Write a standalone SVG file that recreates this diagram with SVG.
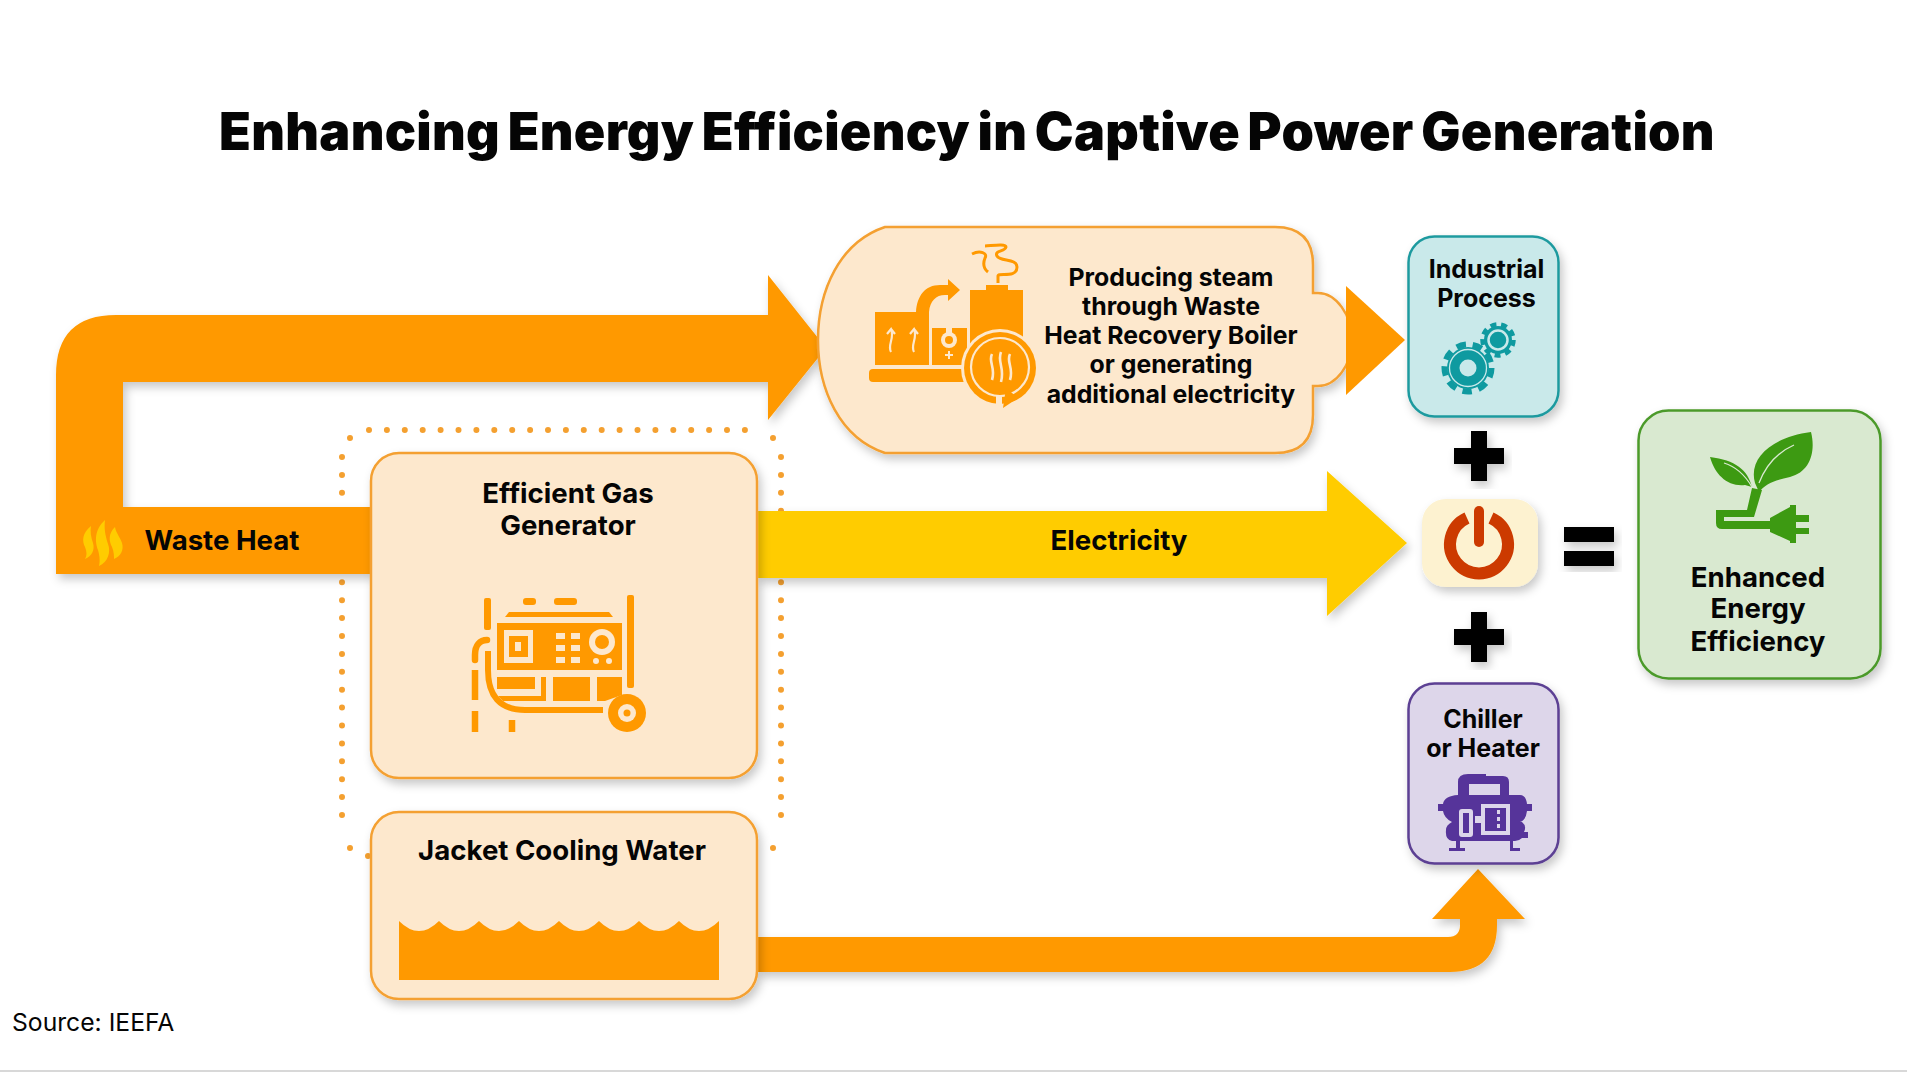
<svg xmlns="http://www.w3.org/2000/svg" width="1907" height="1072" viewBox="0 0 1907 1072">
<style>
text{font-family:Inter,"Liberation Sans",sans-serif;fill:#050505;text-anchor:middle;font-weight:700}
.t27{font-size:27.6px}.t25{font-size:25px}.t24{font-size:24.8px}
.o{fill:#ff9900}.b{fill:#fde8cd}.node{fill:#fde8cd;stroke:#f4a030;stroke-width:2.5}
.lo{fill:none;stroke:#ff9900}.lb{fill:none;stroke:#fde8cd}
.tl{fill:#0f9aa0}.pu{fill:#56349a}.gr{fill:#3d9a12}
</style>
<defs>
<filter id="sh" x="-15%" y="-15%" width="130%" height="130%"><feDropShadow dx="3" dy="5" stdDeviation="5" flood-color="#000" flood-opacity=".22"/></filter>
</defs>
<rect width="1907" height="1072" fill="#fff"/>
<rect y="1070" width="1907" height="2" fill="#d8d8d8"/>
<text id="title" x="967" y="149.500" style="font-size:52px;font-weight:900;word-spacing:-3px;letter-spacing:.28px">Enhancing Energy Efficiency in Captive Power Generation</text>
<g id="connectors">
<path id="dotted-boundary" d="M342 457V830M369 430H756M781 457V830M350 438h.01M773 438h.01M350 848h.01M773 848h.01M368 856h.01" fill="none" stroke="#f4a030" stroke-width="6" stroke-linecap="round" stroke-dasharray="0 17.9"/>
<path id="waste-heat-arrow" class="o" filter="url(#sh)" d="M56 574V375Q56 315 116 315H768V275L826 348L768 420V382H123V507H372V574Z"/>
<path id="electricity-arrow" fill="#ffcc00" filter="url(#sh)" d="M757 511H1327V471L1407 543L1327 616V578H757Z"/>
<path id="cooling-arrow" class="o" filter="url(#sh)" d="M757 937H1448Q1460 937 1460 925V919H1432L1478 869L1525 919H1497V925Q1497 972 1450 972H757Z"/>
</g>
<g id="node-steam">
<path class="node" filter="url(#sh)" d="M885 227H1275Q1313 227 1313 265V293H1318C1336 293 1352 315 1352 340C1352 365 1336 386 1318 386H1313V415Q1313 453 1275 453H885C840 438 818 390 818 340C818 290 840 242 885 227Z"/>
<g id="steam-icon">
<rect class="o" x="869" y="369" width="100" height="13" rx="4"/>
<path class="o" d="M875 312H916C917 296 925 285 940 285H948V279L960 290L948 301V295H945C936 295 930 301 929 312V365H875Z"/>
<path class="o" d="M932 328H967V365H932Z"/>
<path class="o" d="M970 290H986V285H1008V290H1023V345H970Z"/>
<path class="lb" stroke-width="2.200" d="M891 352C887 345 895 338 891 329L887 334M891 329L895 334M914 352C910 345 918 338 914 329L910 334M914 329L918 334"/>
<rect class="b" x="946" y="316" width="6" height="24"/><circle class="b" cx="949" cy="340" r="8"/><circle class="o" cx="949" cy="340" r="4"/>
<path class="lb" stroke-width="2" d="M945 355H953M949 351V359"/>
<circle class="b" cx="1000" cy="368" r="39"/>
<circle class="o" cx="1000" cy="368" r="36"/>
<circle fill="none" stroke="#fde8cd" stroke-width="2.200" cx="1000" cy="367" r="29"/>
<path class="lb" stroke-width="2.600" d="M992 354C988 362 996 368 992 380M1001 352C997 362 1005 368 1001 382M1010 354C1006 362 1014 368 1010 380"/>
<path class="o" d="M1003 408L1006 388L1018 398Z"/>
<path class="b" d="M996 405H1002V396H996Z"/>
<path class="lo" stroke-width="3" d="M998 283V276C998 272 1017 279 1017 267C1017 258 1000 262 997 256C994 250 1005 252 1006 247C1006 243 990 246 985 246M972 254C980 250 988 253 985 258C983 263 983 268 988 272"/>
</g>
<text class="t24"><tspan x="1171" y="286">Producing steam</tspan><tspan x="1171" y="315">through Waste</tspan><tspan x="1171" y="344">Heat Recovery Boiler</tspan><tspan x="1171" y="373">or generating</tspan><tspan x="1171" y="403">additional electricity</tspan></text>
</g>
<path id="steam-arrow" class="o" d="M1346 286L1405 340L1346 395Z"/>
<g id="node-gas-generator">
<rect class="node" filter="url(#sh)" x="371" y="453" width="386" height="325" rx="28"/>
<text class="t27"><tspan x="568" y="503">Efficient Gas</tspan><tspan x="568" y="535">Generator</tspan></text>
<g id="generator-icon">
<rect class="o" x="484" y="598" width="7" height="32" rx="2"/><rect class="o" x="627" y="595" width="7" height="93" rx="2"/>
<rect class="o" x="523" y="598" width="13" height="7" rx="3"/><rect class="o" x="554" y="598" width="23" height="7" rx="3"/>
<path class="o" d="M505 617L509 612H609L613 617Z"/>
<path class="o" d="M497 623H622V670H497Z"/>
<path class="b" d="M504 630H533V663H504ZM556 633h9v6h-9zM571 633h9v6h-9zM556 645h9v6h-9zM571 645h9v6h-9zM556 657h9v6h-9zM571 657h9v6h-9z"/>
<path class="o" d="M509 636H528V657H509Z"/><rect class="b" x="515" y="642" width="6" height="9"/>
<circle class="b" cx="602" cy="642" r="13"/><circle class="o" cx="602" cy="642" r="7"/><circle class="b" cx="596" cy="661" r="3"/><circle class="b" cx="609" cy="661" r="3"/>
<path class="o" d="M497 677H535V689H497ZM553 677H590V701H553ZM597 677H622V695L605 701H597ZM541 677H546V701H503L498 696H541Z"/>
<path class="lo" stroke-width="6" d="M488 651V670C488 696 500 710 525 710H603"/>
<path class="lo" stroke-width="6.500" stroke-linecap="round" d="M475 660V655C475 645 480 640 487 640"/>
<path class="lo" stroke-width="6.500" d="M475 670V700M475 711V732M512 720V732"/>
<circle class="o" cx="627" cy="713" r="19"/><circle class="b" cx="627" cy="713" r="9"/><circle class="o" cx="627" cy="713" r="3.500"/>
</g>
</g>
<g id="node-jacket">
<rect class="node" filter="url(#sh)" x="371" y="812" width="386" height="187" rx="28"/>
<text class="t27" x="562" y="860">Jacket Cooling Water</text>
<path id="water" class="o" d="M399 921Q419 941 439 921Q459 941 479 921Q499 941 519 921Q539 941 559 921Q579 941 599 921Q619 941 639 921Q659 941 679 921Q699 941 719 921V980H399Z"/>
</g>
<text id="label-waste-heat" class="t27" x="222" y="550">Waste Heat</text>
<path id="flame-icon" fill="#ffcc00" d="M91 526C82 533 82 541 85 547C87 552 87 556 85 559C92 556 95 550 93 543C91 537 90 532 91 526ZM105 520C94 530 95 542 98 550C100 557 100 562 99 566C108 562 111 552 108 544C105 535 104 528 105 520ZM115 527C108 534 109 541 112 547C114 552 114 556 114 559C121 556 124 550 122 543C120 537 116 533 115 527Z"/>
<text id="label-electricity" class="t27" x="1119" y="550">Electricity</text>
<g id="node-industrial">
<rect filter="url(#sh)" x="1408.500" y="236.500" width="150" height="180" rx="26" fill="#c9e9ea" stroke="#1f9a9f" stroke-width="2.500"/>
<text class="t25"><tspan x="1486.500" y="277.500">Industrial</tspan><tspan x="1486.500" y="306.500">Process</tspan></text>
<g id="gears-icon">
<circle class="tl" cx="1468" cy="368" r="21"/><circle cx="1468" cy="368" r="23.500" fill="none" stroke="#0f9aa0" stroke-width="6" stroke-dasharray="9.500 6.900"/>
<circle cx="1468" cy="368" r="18.500" fill="none" stroke="#c9e9ea" stroke-width="1.300"/><circle cx="1468" cy="368" r="8.500" fill="#c9e9ea"/>
<circle class="tl" cx="1498" cy="340" r="14"/><circle cx="1498" cy="340" r="15.500" fill="none" stroke="#0f9aa0" stroke-width="4.500" stroke-dasharray="6 4.820"/>
<circle cx="1498" cy="340" r="9.500" fill="none" stroke="#c9e9ea" stroke-width="2.500"/>
</g>
</g>
<path id="plus-top" filter="url(#sh)" d="M1471 431H1487V448H1504V464H1487V481H1471V464H1454V448H1471Z"/>
<g id="node-power">
<rect filter="url(#sh)" x="1422" y="499" width="116" height="88" rx="24" fill="#fdf2d0"/>
<path fill="none" stroke="#cc3a00" stroke-width="12" d="M1467 518A29 29 0 1 0 1491 518"/>
<rect x="1474" y="506" width="10" height="41" rx="5" fill="#cc3a00"/>
</g>
<path id="plus-bottom" filter="url(#sh)" d="M1471 612H1487V629H1504V645H1487V662H1471V645H1454V629H1471Z"/>
<g id="equals" filter="url(#sh)"><rect x="1564" y="527" width="50" height="15"/><rect x="1564" y="551" width="50" height="15"/></g>
<g id="node-chiller">
<rect filter="url(#sh)" x="1408.500" y="683.500" width="150" height="180" rx="26" fill="#ddd6ea" stroke="#5b3f93" stroke-width="2.500"/>
<text class="t25"><tspan x="1483" y="728">Chiller</tspan><tspan x="1483" y="757">or Heater</tspan></text>
<g id="chiller-icon">
<path class="pu" d="M1458 789V782Q1458 774 1468 774H1486V776H1503Q1509 776 1509 782V795H1520Q1526 795 1527 804H1532V811H1527Q1526 820 1520 822H1522Q1527 826 1524 832H1528V838H1522Q1519 841 1515 841H1513V848H1520V851H1510V841H1460V848H1465V851H1449V848H1456V841H1452Q1445 840 1446 830Q1446 825 1452 822Q1444 818 1443 811H1438V804H1443Q1444 796 1458 795Z"/>
<path fill="#ddd6ea" d="M1469 784H1500V795H1469ZM1481 804H1510V835H1481V823H1475V816H1481ZM1462 809H1470Q1473 809 1473 812V834Q1473 837 1470 837H1462Q1459 837 1459 834V812Q1459 809 1462 809Z"/>
<path class="pu" d="M1485 808H1506V831H1485ZM1463 813H1469V833H1463Z"/>
<path fill="#ddd6ea" d="M1497 810h3v4h-3zM1497 817h3v4h-3zM1497 824h3v4h-3z"/>
</g>
</g>
<g id="node-enhanced">
<rect filter="url(#sh)" x="1638.500" y="410.500" width="242" height="268" rx="30" fill="#d9e9d0" stroke="#4c9a2a" stroke-width="2.500"/>
<g id="plant-icon">
<path class="gr" d="M1755 483C1748 458 1772 437 1811 432C1816 452 1810 472 1790 477C1775 480 1765 484 1759 492Z"/>
<path class="gr" d="M1752 487C1748 470 1735 460 1710 457C1715 475 1728 487 1745 485Z"/>
<path fill="none" stroke="#d9e9d0" stroke-width="1.300" d="M1759 483C1766 465 1778 452 1794 445M1724 463C1737 467 1745 475 1752 487"/>
<path class="gr" d="M1752 488L1762 490L1754 517H1724V521H1770V529H1722Q1716 529 1716 523V510H1747Z"/>
<path class="gr" d="M1770 518L1790 507V505H1796V515H1809V522H1796V528H1809V534H1796V543H1790V541L1770 532Z"/>
</g>
<text class="t27"><tspan x="1758" y="587">Enhanced</tspan><tspan x="1758" y="618">Energy</tspan><tspan x="1758" y="651">Efficiency</tspan></text>
</g>
<text id="source" x="12" y="1031" style="font-size:24.700px;font-weight:400;text-anchor:start">Source: IEEFA</text>
</svg>
